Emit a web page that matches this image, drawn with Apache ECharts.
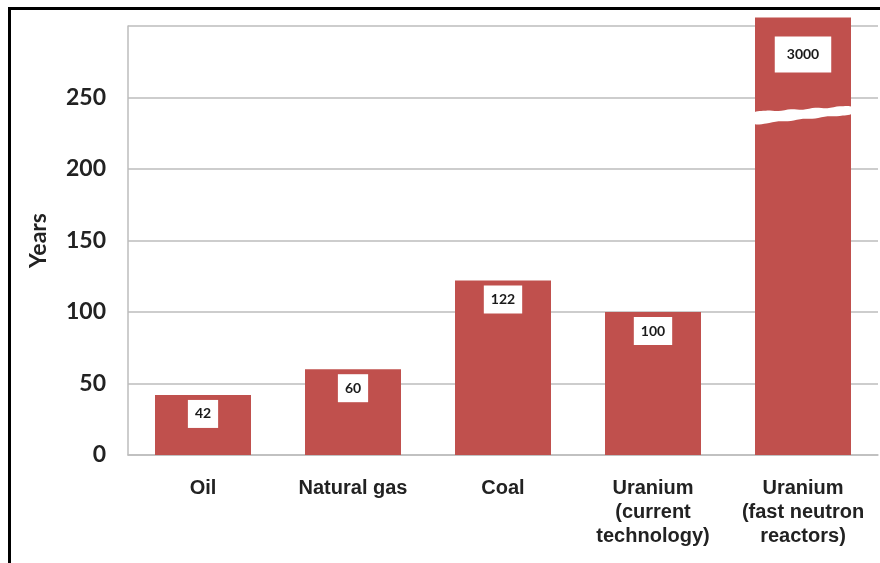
<!DOCTYPE html>
<html>
<head>
<meta charset="utf-8">
<script src="https://cdn.jsdelivr.net/npm/echarts@6/dist/echarts.min.js"></script>
<style>
  html, body { margin: 0; padding: 0; background: #ffffff; overflow: hidden; }
  #frame { position: absolute; left: 8px; top: 7px; width: 1000px; height: 1000px;
           border-top: 3px solid #000; border-left: 3px solid #000; box-sizing: border-box; }
  #chart { position: absolute; left: 0; top: 0; width: 880px; height: 563px; }
</style>
</head>
<body>
<div id="frame"></div>
<div id="chart"></div>
<script>
// ---- data ----
const categories = ['Oil', 'Natural gas', 'Coal', 'Uranium\n(current\ntechnology)', 'Uranium\n(fast neutron\nreactors)'];
const years = [42, 60, 122, 100, 3000];
const yTicks = [0, 50, 100, 150, 200, 250, 300];
// the 3000-year bar is drawn broken: its visible height on the 0-300 axis
const brokenIndex = 4;
const brokenShownHeight = 306;
// broken band (in axis values) at left / right edge of the bar
const breakLow = [231, 238];
const breakHigh = [239.5, 243.5];

const barColor = '#C0504D';
const labelFont = 'Lato, "Open Sans", sans-serif';

const barData = years.map((v, i) => {
  if (i === brokenIndex) {
    return {
      value: brokenShownHeight,
      realValue: v,
      label: { distance: 19, padding: [11, 12, 11, 12] }
    };
  }
  return { value: v, realValue: v };
});

const chart = echarts.init(document.getElementById('chart'), null, { renderer: 'canvas' });
chart.setOption({
  animation: false,
  backgroundColor: 'transparent',
  grid: { left: 128, right: 2, top: 26, bottom: 108, containLabel: false },
  xAxis: {
    type: 'category',
    data: categories,
    axisLine: { show: true, lineStyle: { color: '#bdbdbd', width: 1.5 } },
    axisTick: { show: false },
    axisLabel: {
      margin: 21,
      color: '#222',
      fontFamily: '"Liberation Sans", Arial, sans-serif',
      fontWeight: 'bold',
      fontSize: 20,
      lineHeight: 24,
      interval: 0
    }
  },
  yAxis: {
    type: 'value',
    min: yTicks[0],
    max: yTicks[yTicks.length - 1],
    interval: yTicks[1] - yTicks[0],
    name: 'Years',
    nameLocation: 'middle',
    nameRotate: 90,
    nameGap: 78,
    nameTextStyle: { color: '#222', fontFamily: labelFont, fontWeight: 'bold', fontSize: 23 },
    axisLine: { show: true, lineStyle: { color: '#bdbdbd', width: 1.5 } },
    axisTick: { show: false },
    axisLabel: {
      showMaxLabel: false,
      margin: 22,
      color: '#222',
      fontFamily: labelFont,
      fontWeight: 'bold',
      fontSize: 23
    },
    splitLine: { show: true, lineStyle: { color: '#bdbdbd', width: 1.5 } }
  },
  series: [
    {
      type: 'bar',
      data: barData,
      barWidth: '64%',
      clip: false,
      itemStyle: { color: barColor },
      label: {
        show: true,
        position: 'insideTop',
        distance: 5,
        formatter: p => String(p.data.realValue),
        backgroundColor: '#ffffff',
        color: '#1a1a1a',
        fontFamily: labelFont,
        fontWeight: 'bold',
        fontSize: 14,
        padding: [7, 7, 7, 7]
      },
      z: 2
    },
    {
      type: 'custom',
      data: [[brokenIndex, 0]],
      encode: { x: 0, y: 1 },
      clip: false,
      z: 5,
      silent: true,
      renderItem: function (params, api) {
        const idx = api.value(0);
        const size = api.size([1, 0]);
        const half = size[0] * 0.64 / 2 + 1;
        const c = api.coord([idx, 0])[0];
        const xl = c - half, xr = c + half;
        const yAt = (v) => api.coord([idx, v])[1];
        const n = 8;
        const pts = [];
        for (let k = 0; k <= n; k++) {
          const t = k / n;
          const wob = (k % 2 === 0 ? 0 : 0.8);
          pts.push([xl + (xr - xl) * t, yAt(breakHigh[0] + (breakHigh[1] - breakHigh[0]) * t + wob)]);
        }
        for (let k = n; k >= 0; k--) {
          const t = k / n;
          const wob = (k % 2 === 0 ? 0.6 : 0);
          pts.push([xl + (xr - xl) * t, yAt(breakLow[0] + (breakLow[1] - breakLow[0]) * t + wob)]);
        }
        return {
          type: 'polygon',
          shape: { points: pts, smooth: 0.3 },
          style: { fill: '#ffffff' }
        };
      }
    }
  ]
});
</script>
</body>
</html>
